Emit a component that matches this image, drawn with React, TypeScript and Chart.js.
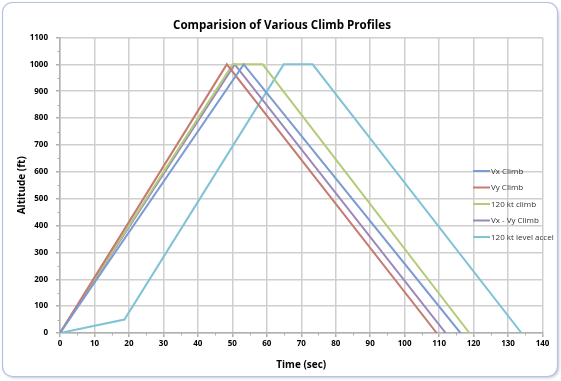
import React, { useEffect, useRef } from "react";
import { Chart, registerables } from "chart.js";

Chart.register(...registerables);

const seriesNames = ["Vx Climb", "Vy Climb", "120 kt climb", "Vx - Vy Climb", "120 kt level accel"];
const seriesColors = ["#7b9bd2", "#c57a72", "#b3cc7a", "#9a86bd", "#80c2d6"];

const vxTime = [0, 53.3, 116.2];
const vxAlt = [0, 1000, 0];
const vyTime = [0, 48.4, 109.3];
const vyAlt = [0, 1000, 0];
const kt120Time = [0, 50.1, 58.8, 118.8];
const kt120Alt = [0, 1000, 1000, 0];
const vxvyTime = [0, 50.7, 111.9];
const vxvyAlt = [0, 1000, 0];
const accelTime = [0, 18.7, 64.9, 73.3, 133.9];
const accelAlt = [0, 50, 1000, 1000, 0];

const seriesTimes = [vxTime, vyTime, kt120Time, vxvyTime, accelTime];
const seriesAlts = [vxAlt, vyAlt, kt120Alt, vxvyAlt, accelAlt];

const W = 561;
const H = 381;

const framePlugin = {
  id: "frame",
  beforeDraw(chart: any) {
    const ctx = chart.ctx;
    ctx.save();
    ctx.fillStyle = "#ffffff";
    ctx.fillRect(0, 0, W, H);
    const x = 2.5, y = 2.5, w = 555, h = 374, r = 10;
    ctx.shadowColor = "rgba(120,130,170,0.45)";
    ctx.shadowBlur = 3;
    ctx.shadowOffsetX = 1.5;
    ctx.shadowOffsetY = 1.5;
    ctx.beginPath();
    ctx.moveTo(x + r, y);
    ctx.lineTo(x + w - r, y);
    ctx.arcTo(x + w, y, x + w, y + r, r);
    ctx.lineTo(x + w, y + h - r);
    ctx.arcTo(x + w, y + h, x + w - r, y + h, r);
    ctx.lineTo(x + r, y + h);
    ctx.arcTo(x, y + h, x, y + h - r, r);
    ctx.lineTo(x, y + r);
    ctx.arcTo(x, y, x + r, y, r);
    ctx.closePath();
    ctx.fillStyle = "#ffffff";
    ctx.fill();
    ctx.shadowColor = "transparent";
    ctx.strokeStyle = "#b5c0e3";
    ctx.lineWidth = 1.2;
    ctx.stroke();
    ctx.restore();
  },
  afterDraw(chart: any) {
    const ctx = chart.ctx;
    ctx.save();
    // minor tick marks on axes
    const xs = chart.scales.x;
    const ysc = chart.scales.y;
    const area = chart.chartArea;
    ctx.strokeStyle = "#b0b0b0";
    ctx.lineWidth = 1;
    for (let v = 5; v < 140; v += 10) {
      const px = Math.round(xs.getPixelForValue(v)) + 0.5;
      ctx.beginPath();
      ctx.moveTo(px, area.bottom);
      ctx.lineTo(px, area.bottom + 2.5);
      ctx.stroke();
    }
    for (let v = 50; v < 1100; v += 100) {
      const py = Math.round(ysc.getPixelForValue(v)) + 0.5;
      ctx.beginPath();
      ctx.moveTo(area.left - 2.5, py);
      ctx.lineTo(area.left, py);
      ctx.stroke();
    }
    ctx.fillStyle = "#000";
    ctx.font = "bold 11.6px 'Open Sans', 'DejaVu Sans', sans-serif";
    ctx.textAlign = "center";
    ctx.textBaseline = "middle";
    ctx.fillText("Comparision of Various Climb Profiles", 282, 26);
    // legend
    const lx = 473;
    const ys = [171, 187.5, 204, 220.5, 237];
    ctx.font = "8px 'Open Sans', 'DejaVu Sans', sans-serif";
    ctx.textAlign = "left";
    chart.data.datasets.forEach((ds: any, i: number) => {
      const yy = ys[i];
      ctx.strokeStyle = ds.borderColor;
      ctx.lineWidth = 2;
      ctx.beginPath();
      ctx.moveTo(lx, yy);
      ctx.lineTo(lx + 17, yy);
      ctx.stroke();
      ctx.fillStyle = "#333";
      ctx.fillText(ds.label, lx + 18, yy + 0.5);
    });
    ctx.restore();
  },
};

export default function App() {
  const ref = useRef<HTMLCanvasElement>(null);
  useEffect(() => {
    if (!ref.current) return;
    const datasets = seriesNames.map((name, i) => ({
      label: name,
      data: seriesTimes[i].map((t, j) => ({ x: t, y: seriesAlts[i][j] })),
      borderColor: seriesColors[i],
      backgroundColor: seriesColors[i],
      borderWidth: 2,
      pointRadius: 0,
      tension: 0,
      fill: false,
    }));
    const tickFont = { family: "'Open Sans', 'DejaVu Sans', sans-serif", size: 8, weight: "bold" as const };
    const chart = new Chart(ref.current, {
      type: "line",
      data: { datasets },
      options: {
        animation: false,
        responsive: false,
        layout: { padding: { left: 16, right: 18.5, top: 37.5, bottom: 10 } },
        plugins: { legend: { display: false }, tooltip: { enabled: false }, title: { display: false } },
        scales: {
          x: {
            type: "linear",
            min: 0,
            max: 140,
            ticks: { stepSize: 10, color: "#000", font: tickFont, padding: 2, maxRotation: 0, callback: (v: any) => String(v) },
            grid: { color: "#cfcfcf", lineWidth: 1.5, tickLength: 4, tickColor: "#b0b0b0" },
            border: { color: "#b0b0b0", width: 1.5 },
            title: {
              display: true,
              text: "Time (sec)",
              color: "#000",
              font: { family: "'Open Sans', 'DejaVu Sans', sans-serif", size: 10, weight: "bold" },
              padding: { top: 2, bottom: 0 },
            },
            afterFit: (s: any) => { s.height = 38; },
          },
          y: {
            type: "linear",
            min: 0,
            max: 1100,
            ticks: { stepSize: 100, color: "#000", font: tickFont, padding: 8, callback: (v: any) => String(v) },
            grid: { color: "#cfcfcf", lineWidth: 1.5, tickLength: 4, tickColor: "#b0b0b0" },
            border: { color: "#b0b0b0", width: 1.5 },
            title: {
              display: true,
              text: "Altitude (ft)",
              color: "#000",
              font: { family: "'Open Sans', 'DejaVu Sans', sans-serif", size: 10, weight: "bold" },
              padding: { top: 0, bottom: 2 },
            },
            afterFit: (s: any) => { s.width = 44; },
          },
        },
      },
      plugins: [framePlugin],
    });
    return () => chart.destroy();
  }, []);
  return (
    <div style={{ position: "fixed", left: 0, top: 0, width: W, height: H }}>
      <canvas ref={ref} width={W} height={H} style={{ width: W, height: H, display: "block" }} />
    </div>
  );
}
